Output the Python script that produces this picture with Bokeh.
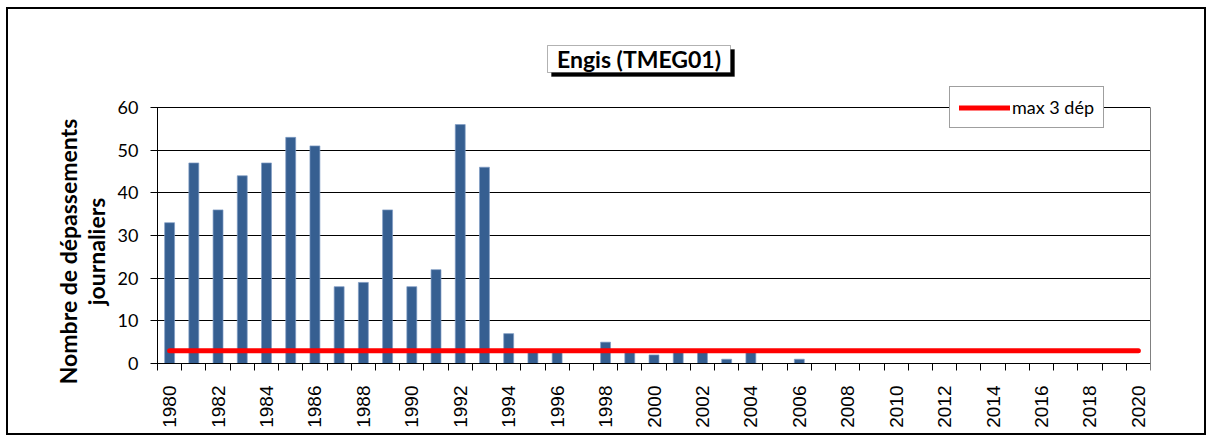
import math
from bokeh.plotting import figure
from bokeh.models import (Range1d, LinearAxis, FixedTicker, Label, Legend, LegendItem,
                          BoxAnnotation)
from bokeh.embed import file_html
from bokeh.resources import INLINE

years = list(range(1980, 2021))
exceedances = [33, 47, 36, 44, 47, 53, 51, 18, 19, 36, 18, 22, 56, 46, 7,
               3, 3, 0, 5, 3, 2, 3, 3, 1, 3, 0, 1,
               0, 0, 0, 0, 0, 0, 0, 0, 0, 0, 0, 0, 0, 0]
limit = [3] * len(years)
year_labels = list(range(1980, 2021, 2))
y_ticks = [0, 10, 20, 30, 40, 50, 60]
title_text = "Engis (TMEG01)"
y_title = ["Nombre de dépassements", "journaliers"]
legend_text = "max 3 dép"

# ---- layout (page pixels) ----
W, H = 1200, 428
OX, OY = 8, 9                 # content origin on page
AX_L, AX_R = 157, 1150        # plot area left / right
AX_T, AX_B = 107, 363         # plot area top (value 60) / bottom (value 0)
FR_T = 30                     # frame top on page
FL, FB = OX, OY + H           # frame left / bottom on page
PX_YEAR = (AX_R - AX_L) / len(years)
PX_UNIT = (AX_B - AX_T) / 60
X0 = 1979.5 - (AX_L - FL) / PX_YEAR
Y0 = -(FB - AX_B) / PX_UNIT
Y1 = 60 + (AX_T - FR_T) / PX_UNIT

p = figure(width=W, height=H, output_backend="svg", toolbar_location=None,
           x_range=Range1d(X0, 2020.5), y_range=Range1d(Y0, Y1),
           x_axis_type=None, y_axis_type=None,
           min_border_left=0, min_border_right=W - (AX_R - OX),
           min_border_top=FR_T - OY, min_border_bottom=0,
           background_fill_color="white", border_fill_color="white",
           outline_line_color=None,
           styles={"border": "2px solid black", "margin-left": "6px", "margin-top": "7px"})

xaxis = LinearAxis(ticker=FixedTicker(ticks=year_labels,
                                      minor_ticks=[y - 0.5 for y in years] + [2020.5]),
                   bounds=(1979.5, 2020.5), fixed_location=0)
xaxis.major_tick_out = 0
xaxis.major_tick_in = 0
xaxis.minor_tick_out = 7
xaxis.minor_tick_in = 0
xaxis.minor_tick_line_color = "black"
xaxis.axis_line_color = "black"
xaxis.major_label_orientation = math.pi / 2
xaxis.major_label_standoff = 15
xaxis.major_label_text_font = "Liberation Sans"
xaxis.major_label_text_font_size = "19px"
xaxis.major_label_text_color = "black"
p.add_layout(xaxis, "below")

# y axis drawn at the plot-area edge; its inward ticks form the grid lines
yaxis = LinearAxis(ticker=FixedTicker(ticks=y_ticks), bounds=(0, 60),
                   fixed_location=1979.5, level="underlay")
yaxis.major_tick_out = 7
yaxis.major_tick_in = AX_R - AX_L
yaxis.minor_tick_out = 0
yaxis.minor_tick_in = 0
yaxis.major_tick_line_color = "black"
yaxis.axis_line_color = "black"
yaxis.major_label_standoff = 12
yaxis.major_label_text_font = "Lato"
yaxis.major_label_text_font_size = "18px"
yaxis.major_label_text_color = "black"
p.add_layout(yaxis, "left")
p.xgrid.visible = False
p.ygrid.visible = False

# grey right border of the plot area
rax = LinearAxis(ticker=FixedTicker(ticks=[]), bounds=(0, 60))
rax.axis_line_color = "#808080"
rax.major_tick_out = 0
rax.major_tick_in = 0
rax.minor_tick_out = 0
rax.minor_tick_in = 0
rax.major_label_text_font_size = "0px"
p.add_layout(rax, "right")

p.vbar(x=years, top=exceedances, width=0.41, fill_color="#365F91",
       line_color="#7F9CC4", line_width=0.7)
line_r = p.line(x=years, y=limit, line_color="#FF0000", line_width=5, line_cap="round")

legend = Legend(items=[LegendItem(label=legend_text, renderers=[line_r])],
                location=(949 - FL, FB - 128), orientation="vertical",
                label_text_font="Lato", label_text_font_size="18px",
                label_text_color="black", glyph_width=51, glyph_height=21,
                label_standoff=2, padding=9, spacing=0, margin=0,
                border_line_color="#404040", border_line_width=1,
                background_fill_color="white", background_fill_alpha=1)
p.add_layout(legend, "center")

# title box with drop shadow
def screen_box(l, r, t, b, **kw):
    return BoxAnnotation(left=l - FL, right=r - FL, top=FB - t, bottom=FB - b,
                         left_units="screen", right_units="screen",
                         top_units="screen", bottom_units="screen", **kw)

p.add_layout(screen_box(551, 734, 49, 76, fill_color="black", fill_alpha=1,
                        line_color="black", line_width=1))
p.add_layout(screen_box(547, 730, 45, 72, fill_color="white", fill_alpha=1,
                        line_color="black", line_width=1))
p.add_layout(Label(x=638.5 - FL, y=FB - 58.5, x_units="screen", y_units="screen",
                   text=title_text, text_align="center", text_baseline="middle",
                   text_font="Lato", text_font_style="bold", text_font_size="23px",
                   text_color="black"))

# y title, two centred lines, centre y 251
for txt, bx in zip(y_title, [67.5, 95.5]):
    p.add_layout(Label(x=bx - FL, y=FB - 251, x_units="screen", y_units="screen",
                       text=txt, angle=math.pi / 2, text_align="center",
                       text_baseline="alphabetic", text_font="Lato",
                       text_font_style="bold", text_font_size="23px",
                       text_color="black"))

open("out.html", "w").write(file_html(p, INLINE))
